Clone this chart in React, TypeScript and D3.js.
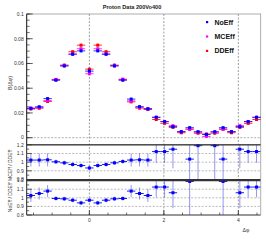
import React from "react";
import * as d3 from "d3";

const binCenters = [
  -1.5708, -1.3464, -1.122, -0.8976, -0.6732, -0.4488, -0.2244, 0, 0.2244, 0.4488,
  0.6732, 0.8976, 1.122, 1.3464, 1.5708, 1.7952, 2.0196, 2.244, 2.4683, 2.6927,
  2.9171, 3.1416, 3.366, 3.5904, 3.8148, 4.0392, 4.2636, 4.488,
];
const binHalf = 0.1122;
const xDomain = [-1.683, 4.6];

const noEff = [
  0.0238, 0.025, 0.0316, 0.0465, 0.058, 0.0675, 0.0702, 0.0538, 0.0702, 0.0675,
  0.058, 0.0465, 0.0312, 0.0251, 0.0234, 0.0165, 0.013, 0.0089, 0.0048, 0.0081,
  0.0048, 0.0026, 0.0048, 0.0081, 0.0048, 0.0089, 0.013, 0.0165,
];
const mcEff = [
  0.0238, 0.0244, 0.0301, 0.0471, 0.0582, 0.0676, 0.0719, 0.0517, 0.0719, 0.0676,
  0.0582, 0.0473, 0.0297, 0.0245, 0.0233, 0.0165, 0.013, 0.0097, 0.005, 0.007,
  0.0045, 0.001, 0.0045, 0.007, 0.005, 0.0097, 0.013, 0.0165,
];
const ddEff = [
  0.0232, 0.0238, 0.0293, 0.0469, 0.0587, 0.0695, 0.0748, 0.0554, 0.0748, 0.0695,
  0.0587, 0.0469, 0.029, 0.0239, 0.0228, 0.0147, 0.0116, 0.0084, 0.004, 0.0068,
  0.0036, 0.003, 0.0036, 0.0068, 0.004, 0.0084, 0.0116, 0.0147,
];

const ratioMC: (number | null)[] = [
  1.024, 1.024, 1.027, 1.004, 0.992, 0.973, 0.961, 0.933, 0.961, 0.973,
  0.992, 1.008, 1.024, 1.027, 1.024, 1.122, 1.122, 1.149, null, 1.035,
  1.19, null, 1.19, 1.035, null, 1.149, 1.122, 1.122,
];
const ratioMCErr = [
  0.075, 0.075, 0.075, 0.025, 0.025, 0.025, 0.025, 0.03, 0.025, 0.025,
  0.025, 0.025, 0.075, 0.075, 0.075, 0.13, 0.13, 0.22, 0, 0.35,
  0.45, 0, 0.45, 0.35, 0, 0.22, 0.13, 0.13,
];
const ratioNo: (number | null)[] = [
  1.027, 1.05, 1.078, 0.992, 0.988, 0.972, 0.941, 0.972, 0.941, 0.972,
  0.988, 0.992, 1.078, 1.05, 1.027, 1.125, 1.125, 1.059, null, 1.19,
  null, null, null, 1.19, null, 1.059, 1.125, 1.125,
];
const ratioNoErr = [
  0.075, 0.07, 0.07, 0.025, 0.025, 0.025, 0.025, 0.025, 0.025, 0.025,
  0.025, 0.025, 0.07, 0.07, 0.075, 0.12, 0.12, 0.18, 0, 0.4,
  0, 0, 0, 0.4, 0, 0.18, 0.12, 0.12,
];

const topTicks = [0, 0.02, 0.04, 0.06, 0.08, 0.1];
const topTickLabels = ["0", "0.02", "0.04", "0.06", "0.08", "0.1"];
const ratioTicks = [0.8, 0.9, 1, 1.1, 1.2];
const ratioTickLabels = ["0.8", "0.9", "1", "1.1", "1.2"];
const xTicks = [0, 2, 4];
const xTickLabels = ["0", "2", "4"];
const legendNames = ["NoEff", "MCEff", "DDEff"];
const colors = { no: "#0000ff", mc: "#ff00ff", dd: "#ff0000" };

const FONT = "'Liberation Sans', Arial, sans-serif";

export default function App() {
  const L = 26.7, R = 260.7;
  const x = d3.scaleLinear().domain(xDomain).range([L, R]);
  const yTop = d3.scaleLinear().domain([-0.0055, 0.1]).range([144.5, 14]);
  const yR1 = d3.scaleLinear().domain([0.8, 1.2]).range([179.5, 144.8]);
  const yR2 = d3.scaleLinear().domain([0.8, 1.2]).range([215, 180.6]);

  const topSeries = [
    { vals: ddEff, c: colors.dd },
    { vals: mcEff, c: colors.mc },
    { vals: noEff, c: colors.no },
  ];

  const minorTop = d3.range(0, 0.1001, 0.005);
  const minorX = d3.range(-1.5, 4.6, 0.5);

  const ratioPanel = (vals: (number | null)[], errs: number[], y: any, key: string) => {
    const [y0, y1] = y.range();
    const clip = (v: number) => Math.max(y1, Math.min(y0, v));
    return (
      <g key={key}>
        {[0.9, 1, 1.1].map((t) => (
          <line key={t} x1={L} x2={R} y1={y(t)} y2={y(t)} stroke="#aaa" strokeWidth={0.8} strokeDasharray="2,1.5" />
        ))}
        {vals.map((v, i) =>
          v == null ? null : (
            <g key={i}>
              <line x1={x(binCenters[i])} x2={x(binCenters[i])} y1={clip(y(v + errs[i]))} y2={clip(y(v - errs[i]))}
                stroke="#4040e0" strokeOpacity={0.55} strokeWidth={1} />
              <line x1={x(binCenters[i] - binHalf)} x2={x(binCenters[i] + binHalf)} y1={y(v)} y2={y(v)}
                stroke={colors.no} strokeWidth={0.9} />
              <rect x={x(binCenters[i]) - 1.5} y={y(v) - 1.5} width={3} height={3} fill={colors.no} />
            </g>
          )
        )}
        {ratioTicks.map((t, i) => (
          <g key={"t" + t}>
            <line x1={L} x2={L + 5} y1={y(t)} y2={y(t)} stroke="#333" strokeWidth={0.8} />
            <text x={L - 3} y={y(t) + 1.8} fontSize={5} fill="#333" textAnchor="end" fontFamily={FONT}>{ratioTickLabels[i]}</text>
          </g>
        ))}
        {[0.85, 0.95, 1.05, 1.15].map((t) => (
          <line key={"m" + t} x1={L} x2={L + 2.5} y1={y(t)} y2={y(t)} stroke="#333" strokeWidth={0.7} />
        ))}
        <line x1={L} x2={R} y1={y0} y2={y0} stroke="#333" strokeWidth={1.2} />
        <line x1={L} x2={R} y1={y1} y2={y1} stroke="#333" strokeWidth={1.2} />
        <line x1={R} x2={R} y1={y0} y2={y1} stroke="#999" strokeWidth={0.8} />
      </g>
    );
  };

  return (
    <svg width={266} height={240} style={{ position: "absolute", left: 0, top: 0, background: "#fff" }}>
      <rect x={0} y={0} width={266} height={240} fill="#fff" />
      {/* title */}
      <text x={132} y={8.5} fontSize={5.6} fontWeight="bold" textAnchor="middle" fontFamily={FONT} fill="#222">
        Proton Data 200Vo400
      </text>
      {/* top frame */}
      <rect x={L} y={14} width={R - L} height={144.5 - 14} fill="none" stroke="#999" strokeWidth={0.8} />
      <line x1={L} x2={L} y1={14} y2={215} stroke="#222" strokeWidth={1} />
      {/* zero line */}
      <line x1={L} x2={R} y1={yTop(0)} y2={yTop(0)} stroke="#999" strokeWidth={0.8} strokeDasharray="2,1.5" />
      {/* vertical grid */}
      {xTicks.map((t) => (
        <line key={"g" + t} x1={x(t)} x2={x(t)} y1={14} y2={215} stroke="#888" strokeWidth={0.8} strokeDasharray="2,1.5" />
      ))}
      {/* top y ticks */}
      {minorTop.map((t) => (
        <line key={"mt" + t} x1={L} x2={L + 3} y1={yTop(t)} y2={yTop(t)} stroke="#333" strokeWidth={0.7} />
      ))}
      {topTicks.map((t, i) => (
        <g key={"tt" + t}>
          <line x1={L} x2={L + 6} y1={yTop(t)} y2={yTop(t)} stroke="#333" strokeWidth={0.8} />
          <text x={L - 3} y={yTop(t) + 1.8} fontSize={5} fill="#333" textAnchor="end" fontFamily={FONT}>{topTickLabels[i]}</text>
        </g>
      ))}
      {/* top series */}
      {topSeries.map((s, si) => (
        <g key={"s" + si}>
          {s.vals.map((v, i) => (
            <g key={i}>
              <line x1={x(binCenters[i] - binHalf)} x2={x(binCenters[i] + binHalf)} y1={yTop(v)} y2={yTop(v)}
                stroke={s.c} strokeWidth={1} strokeOpacity={0.8} />
              <line x1={x(binCenters[i])} x2={x(binCenters[i])} y1={yTop(v) - 1.5} y2={yTop(v) + 1.5}
                stroke={s.c} strokeWidth={0.8} strokeOpacity={0.6} />
              <rect x={x(binCenters[i]) - 1.5} y={yTop(v) - 1.5} width={3} height={3} fill={s.c} />
            </g>
          ))}
        </g>
      ))}
      {/* legend */}
      {legendNames.map((n, i) => (
        <g key={n}>
          <rect x={206} y={21 + i * 14.4} width={2.2} height={2.2} fill={[colors.no, colors.mc, colors.dd][i]} />
          <text x={214.5} y={24.6 + i * 14.4} fontSize={7} fontWeight="bold" fontFamily={FONT} fill="#111">{n}</text>
        </g>
      ))}
      {/* y title */}
      <text transform="translate(12,83) rotate(-90)" fontSize={5.2} textAnchor="middle" fontFamily={FONT} fill="#333">
        B(Δφ)
      </text>
      {/* ratio panels */}
      {ratioPanel(ratioMC, ratioMCErr, yR1, "r1")}
      {ratioPanel(ratioNo, ratioNoErr, yR2, "r2")}
      <text transform="translate(12,181) rotate(-90)" fontSize={5} textAnchor="middle" fontFamily={FONT} fill="#333">
        NoEff / DDEff MCEff / DDEff
      </text>
      {/* x ticks */}
      {minorX.map((t) => (
        <line key={"mx" + t} x1={x(t)} x2={x(t)} y1={215} y2={212.5} stroke="#333" strokeWidth={0.7} />
      ))}
      {xTicks.map((t, i) => (
        <g key={"xt" + t}>
          <line x1={x(t)} x2={x(t)} y1={215} y2={210} stroke="#333" strokeWidth={0.8} />
          <text x={x(t)} y={221.5} fontSize={5} textAnchor="middle" fill="#333" fontFamily={FONT}>{xTickLabels[i]}</text>
        </g>
      ))}
      <text x={246} y={232} fontSize={5.2} textAnchor="middle" fill="#333" fontFamily={FONT}>Δφ</text>
    </svg>
  );
}
